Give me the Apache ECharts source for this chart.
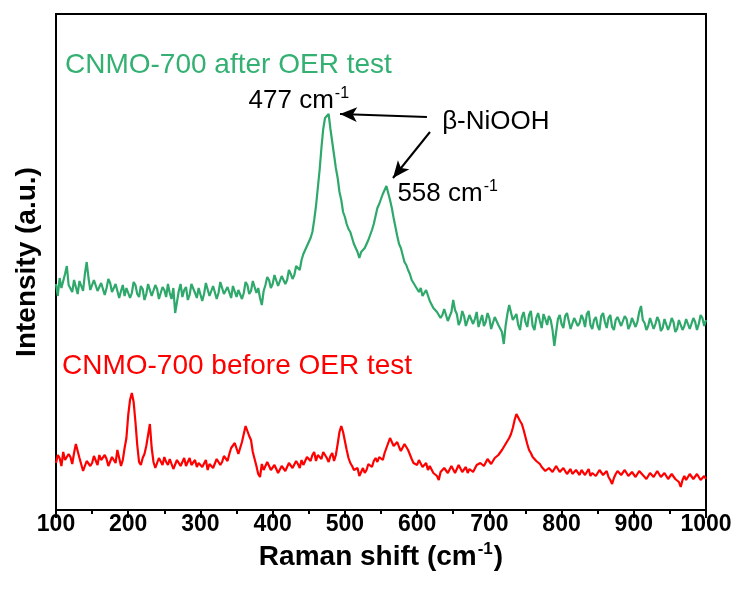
<!DOCTYPE html>
<html>
<head>
<meta charset="utf-8">
<title>Raman spectra of CNMO-700</title>
<script src="https://cdn.jsdelivr.net/npm/echarts@6/dist/echarts.min.js"></script>
<style>
  html, body { margin: 0; padding: 0; background: #fff; }
  #chart { width: 733px; height: 592px; }
</style>
</head>
<body>
<div id="chart"></div>
<script>
// Raman shift sampling grid (cm-1), 2.5 cm-1 steps
const shift = [
  100,102.5,105,107.5,110,112.5,115,117.5,120,122.5,125,127.5,130,132.5,135,137.5,140,142.5,145,147.5,
  150,152.5,155,157.5,160,162.5,165,167.5,170,172.5,175,177.5,180,182.5,185,187.5,190,192.5,195,197.5,
  200,202.5,205,207.5,210,212.5,215,217.5,220,222.5,225,227.5,230,232.5,235,237.5,240,242.5,245,247.5,
  250,252.5,255,257.5,260,262.5,265,267.5,270,272.5,275,277.5,280,282.5,285,287.5,290,292.5,295,297.5,
  300,302.5,305,307.5,310,312.5,315,317.5,320,322.5,325,327.5,330,332.5,335,337.5,340,342.5,345,347.5,
  350,352.5,355,357.5,360,362.5,365,367.5,370,372.5,375,377.5,380,382.5,385,387.5,390,392.5,395,397.5,
  400,402.5,405,407.5,410,412.5,415,417.5,420,422.5,425,427.5,430,432.5,435,437.5,440,442.5,445,447.5,
  450,452.5,455,457.5,460,462.5,465,467.5,470,472.5,475,477.5,480,482.5,485,487.5,490,492.5,495,497.5,
  500,502.5,505,507.5,510,512.5,515,517.5,520,522.5,525,527.5,530,532.5,535,537.5,540,542.5,545,547.5,
  550,552.5,555,557.5,560,562.5,565,567.5,570,572.5,575,577.5,580,582.5,585,587.5,590,592.5,595,597.5,
  600,602.5,605,607.5,610,612.5,615,617.5,620,622.5,625,627.5,630,632.5,635,637.5,640,642.5,645,647.5,
  650,652.5,655,657.5,660,662.5,665,667.5,670,672.5,675,677.5,680,682.5,685,687.5,690,692.5,695,697.5,
  700,702.5,705,707.5,710,712.5,715,717.5,720,722.5,725,727.5,730,732.5,735,737.5,740,742.5,745,747.5,
  750,752.5,755,757.5,760,762.5,765,767.5,770,772.5,775,777.5,780,782.5,785,787.5,790,792.5,795,797.5,
  800,802.5,805,807.5,810,812.5,815,817.5,820,822.5,825,827.5,830,832.5,835,837.5,840,842.5,845,847.5,
  850,852.5,855,857.5,860,862.5,865,867.5,870,872.5,875,877.5,880,882.5,885,887.5,890,892.5,895,897.5,
  900,902.5,905,907.5,910,912.5,915,917.5,920,922.5,925,927.5,930,932.5,935,937.5,940,942.5,945,947.5,
  950,952.5,955,957.5,960,962.5,965,967.5,970,972.5,975,977.5,980,982.5,985,987.5,990,992.5,995,997.5,
  1000
];

// CNMO-700 after OER test (offset intensity, a.u.)
const afterOER = [
  226,214,232,222,221,236,244,225,227,218,230,223,216,229,228,219,236,248,232,220,
  222,230,229,219,218,227,226,215,222,231,227,218,217,226,224,212,219,225,214,222,
  223,212,217,228,225,216,213,224,221,210,216,226,224,214,215,225,221,211,212,223,
  220,213,226,217,211,222,197,208,219,226,213,220,223,210,215,226,227,217,212,222,
  220,209,216,227,226,214,213,224,222,211,217,228,227,216,214,223,221,212,224,226,
  213,220,222,211,217,228,225,216,219,229,228,217,222,212,205,219,225,233,230,222,
  226,235,233,224,224,234,232,226,230,240,236,231,235,244,242,240,250,256,258,264,
  268,272,278,290,304,322,340,362,381,392,394,396,381,368,355,342,332,318,310,298,
  293,286,281,278,272,266,264,258,252,258,260,262,266,270,271,280,286,294,302,306,
  311,316,318,324,322,310,302,292,283,274,266,262,255,248,245,240,236,230,231,224,
  225,218,222,214,216,220,218,209,208,202,204,198,200,192,195,201,199,189,190,198,
  210,200,196,185,189,199,194,184,186,195,197,186,191,198,183,189,195,184,188,197,
  192,181,182,193,194,185,187,178,166,184,196,205,204,190,189,196,185,180,193,198,
  188,183,195,199,184,180,192,197,189,182,196,191,185,194,190,180,164,178,191,195,
  186,182,194,197,189,181,183,192,193,184,187,195,191,183,196,199,185,181,190,193,
  184,180,194,197,188,182,192,195,183,180,190,193,195,184,186,194,191,181,185,192,
  193,183,188,198,204,190,187,180,184,192,191,181,186,193,189,179,182,191,190,180,
  185,192,188,178,181,190,189,180,184,191,190,181,183,192,188,180,186,195,192,184,
  190
];

// CNMO-700 before OER test (a.u.)
const beforeOER = [
  47,55,52,44,58,50,48,56,53,46,57,66,64,52,50,39,41,49,50,44,
  47,54,53,45,55,50,48,55,51,44,46,53,52,47,60,52,44,50,62,72,
  95,110,117,108,88,65,48,45,52,56,64,75,86,62,48,42,44,52,50,45,
  53,48,45,51,49,41,42,50,50,44,46,52,44,48,52,45,47,50,43,47,
  49,43,45,50,40,46,47,42,44,51,50,45,48,54,53,49,56,62,60,67,
  66,56,57,68,76,84,82,74,70,58,51,44,36,33,46,40,42,48,47,40,
  38,45,44,37,36,44,45,39,41,47,48,42,43,49,46,42,50,45,47,53,
  53,49,55,58,49,55,57,51,58,56,52,48,54,57,49,55,66,78,84,78,
  69,60,52,47,44,40,38,42,34,38,42,37,40,46,46,43,49,52,48,53,
  54,50,57,62,67,72,71,64,66,68,63,59,60,66,64,60,58,51,47,49,
  45,50,48,43,44,47,40,44,43,37,38,34,30,38,37,42,43,37,38,44,
  42,37,39,45,44,38,40,43,37,41,42,38,39,45,44,47,48,44,46,51,
  50,46,47,52,53,55,57,60,62,66,68,72,76,82,90,96,94,89,86,80,
  73,66,60,57,53,51,49,47,46,43,41,39,38,42,43,38,40,44,42,38,
  37,42,41,36,38,41,36,34,40,38,35,40,39,35,37,41,34,37,38,34,
  36,40,40,35,37,39,33,30,26,32,36,39,38,35,35,40,39,34,34,38,
  37,33,35,39,40,35,36,31,33,37,38,33,35,39,37,33,32,37,36,31,
  31,36,35,31,33,28,23,30,34,30,31,36,35,31,32,36,34,30,30,34,
  31
];

// x-axis tick labels
const tickLabels = ['100','200','300','400','500','600','700','800','900','1000'];

const FONT = '"Liberation Sans", Arial, Helvetica, sans-serif';
const GREEN = '#2ea86b';
const GREEN_TEXT = '#33b072';
const RED = '#ff0000';

const toPairs = (ys) => shift.map((x, i) => [x, ys[i]]);

// label style with superscript "-1"
const supRich = {
  b: { fontFamily: FONT, fontSize: 26, color: '#000', lineHeight: 30 },
  s: { fontFamily: FONT, fontSize: 16, color: '#000', lineHeight: 30, verticalAlign: 'top', padding: [0, 0, 10, 1] }
};

const textPoint = (coord, text) => ({
  coord: coord,
  symbol: 'circle',
  symbolSize: 1,
  itemStyle: { color: 'rgba(0,0,0,0)' },
  label: {
    show: true,
    position: 'right',
    distance: 0,
    formatter: text,
    rich: supRich
  }
});

const chart = echarts.init(document.getElementById('chart'), null, { renderer: 'canvas' });

chart.setOption({
  animation: false,
  backgroundColor: '#fff',
  grid: {
    left: 56, right: 27, top: 14, bottom: 82,
    outerBoundsMode: 'none',
    containLabel: false,
    show: true, borderColor: '#000', borderWidth: 2, backgroundColor: 'transparent'
  },
  xAxis: {
    type: 'value',
    min: 100, max: 1000, interval: 100,
    axisLine: { show: true, lineStyle: { color: '#000', width: 2 } },
    axisTick: { show: true, inside: false, length: 8, lineStyle: { color: '#000', width: 2 } },
    minorTick: { show: true, splitNumber: 2, length: 4, lineStyle: { color: '#000', width: 2 } },
    splitLine: { show: false },
    axisLabel: {
      color: '#000', fontFamily: FONT, fontWeight: 'bold', fontSize: 23, margin: 3,
      formatter: (v) => {
        const i = tickLabels.indexOf(String(v));
        return i >= 0 ? tickLabels[i] : '';
      }
    },
    name: '{a|Raman shift (cm}{s|-1}{a|)}',
    nameLocation: 'middle',
    nameGap: 26,
    nameTextStyle: {
      rich: {
        a: { fontFamily: FONT, fontWeight: 'bold', fontSize: 28, color: '#000', lineHeight: 32 },
        s: { fontFamily: FONT, fontWeight: 'bold', fontSize: 17, color: '#000', lineHeight: 32, verticalAlign: 'top', padding: [0, 1, 12, 1] }
      }
    }
  },
  yAxis: {
    type: 'value',
    min: 0, max: 496,
    axisLine: { show: true, lineStyle: { color: '#000', width: 2 } },
    axisTick: { show: false },
    axisLabel: { show: false },
    splitLine: { show: false },
    name: 'Intensity (a.u.)',
    nameLocation: 'middle',
    nameGap: 15,
    nameTextStyle: { fontFamily: FONT, fontWeight: 'bold', fontSize: 28, color: '#000' }
  },
  graphic: [
    {
      type: 'text', left: 65, top: 51,
      style: { text: 'CNMO-700 after OER test', fill: GREEN_TEXT, font: '28px ' + FONT }
    },
    {
      type: 'text', left: 62, top: 352,
      style: { text: 'CNMO-700 before OER test', fill: RED, font: '28px ' + FONT }
    }
  ],
  series: [
    {
      name: 'after OER',
      type: 'line',
      data: toPairs(afterOER),
      showSymbol: false,
      symbol: 'none',
      lineStyle: { color: GREEN, width: 2.2 },
      silent: true,
      markPoint: {
        silent: true,
        data: [
          textPoint([366, 409], '{b|477 cm}{s|-1}'),
          textPoint([572, 316], '{b|558 cm}{s|-1}'),
          textPoint([634, 388], '{b|β-NiOOH}')
        ]
      },
      markLine: {
        silent: true,
        symbol: ['none', 'arrow'],
        symbolSize: [11, 17],
        label: { show: false },
        lineStyle: { color: '#000', width: 2, type: 'solid' },
        data: [
          [{ coord: [613.6, 393] }, { coord: [493.2, 396] }],
          [{ coord: [617.8, 378] }, { coord: [566.6, 332] }]
        ]
      }
    },
    {
      name: 'before OER',
      type: 'line',
      data: toPairs(beforeOER),
      showSymbol: false,
      symbol: 'none',
      lineStyle: { color: RED, width: 2.2 },
      silent: true
    }
  ]
});
</script>
</body>
</html>
